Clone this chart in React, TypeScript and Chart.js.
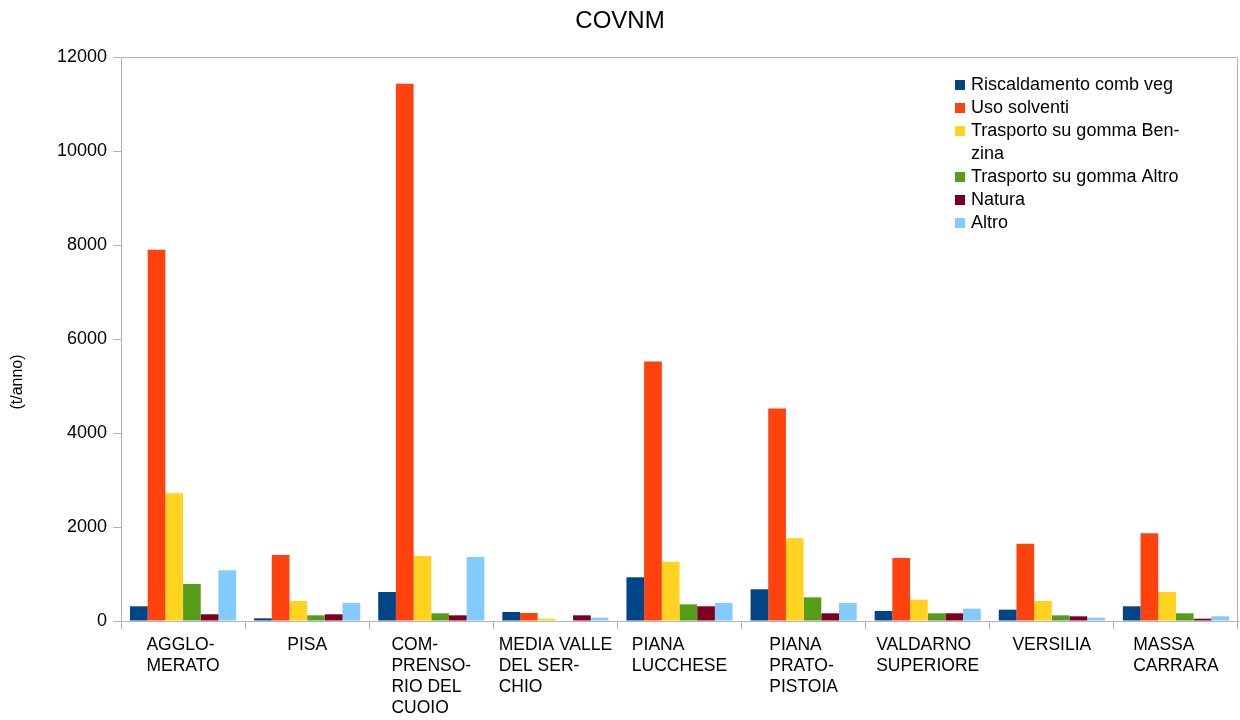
import React, { useEffect, useRef } from "react";
import { Chart, registerables } from "chart.js";

Chart.register(...registerables);

const chartTitle = "COVNM";
const yAxisTitle = "(t/anno)";

const categories: string[][] = [
  ["AGGLO-", "MERATO"],
  ["PISA"],
  ["COM-", "PRENSO-", "RIO DEL", "CUOIO"],
  ["MEDIA VALLE", "DEL SER-", "CHIO"],
  ["PIANA", "LUCCHESE"],
  ["PIANA", "PRATO-", "PISTOIA"],
  ["VALDARNO", "SUPERIORE"],
  ["VERSILIA"],
  ["MASSA", "CARRARA"],
];

const seriesNames: string[][] = [
  ["Riscaldamento comb veg"],
  ["Uso solventi"],
  ["Trasporto su gomma Ben-", "zina"],
  ["Trasporto su gomma Altro"],
  ["Natura"],
  ["Altro"],
];

const seriesColors = ["#004586", "#ff420e", "#ffd320", "#579d1c", "#7e0021", "#83caff"];

const riscaldamento = [313, 57, 617, 191, 930, 675, 213, 241, 313];
const usoSolventi = [7900, 1404, 11430, 170, 5520, 4520, 1340, 1645, 1866];
const benzina = [2720, 426, 1383, 49, 1262, 1760, 454, 426, 617];
const gommaAltro = [787, 121, 164, 0, 355, 504, 164, 121, 164];
const natura = [143, 143, 121, 121, 313, 164, 164, 100, 49];
const altro = [1079, 383, 1362, 70, 383, 383, 262, 70, 100];

const seriesValues = [riscaldamento, usoSolventi, benzina, gommaAltro, natura, altro];

const yMin = 0;
const yMax = 12000;
const yStep = 2000;

const FONT = '"Liberation Sans", Arial, sans-serif';
const GRAY = "#b3b3b3";

const overlayPlugin = {
  id: "overlay",
  afterDraw(chart: any) {
    const ctx = chart.ctx as CanvasRenderingContext2D;
    const { left, top, right, bottom } = chart.chartArea;
    ctx.save();

    // frame (top and right)
    ctx.strokeStyle = GRAY;
    ctx.lineWidth = 1;
    ctx.beginPath();
    ctx.moveTo(Math.round(left) + 0.5, Math.round(top) + 0.5);
    ctx.lineTo(Math.round(right) - 0.5, Math.round(top) + 0.5);
    ctx.lineTo(Math.round(right) - 0.5, Math.round(bottom) + 0.5);
    ctx.stroke();

    ctx.fillStyle = "#000";

    // title
    ctx.font = `24px ${FONT}`;
    ctx.textAlign = "center";
    ctx.textBaseline = "middle";
    ctx.fillText(chartTitle, chart.width / 2, 21);

    // y axis title
    ctx.save();
    ctx.translate(18, 382);
    ctx.rotate(-Math.PI / 2);
    ctx.font = `16px ${FONT}`;
    ctx.fillText(yAxisTitle, 0, 0);
    ctx.restore();

    // x category labels (block centered, lines left aligned)
    const xs = chart.scales.x;
    ctx.font = `17.5px ${FONT}`;
    ctx.textAlign = "left";
    categories.forEach((lines, i) => {
      const cx = xs.getPixelForValue(i);
      const maxW = Math.max(...lines.map((l) => ctx.measureText(l).width));
      const sx = cx - maxW / 2;
      lines.forEach((l, j) => {
        ctx.fillText(l, sx, bottom + 24 + j * 21);
      });
    });

    // legend
    ctx.font = `18px ${FONT}`;
    let row = 0;
    seriesNames.forEach((lines, i) => {
      const y = 85 + row * 23;
      ctx.fillStyle = seriesColors[i];
      ctx.fillRect(955, y - 5, 10, 10);
      ctx.fillStyle = "#000";
      lines.forEach((l, j) => {
        ctx.fillText(l, 971, 85 + (row + j) * 23);
      });
      row += lines.length;
    });

    ctx.restore();
  },
};

export default function App() {
  const canvasRef = useRef<HTMLCanvasElement | null>(null);

  useEffect(() => {
    if (!canvasRef.current) return;
    const chart = new Chart(canvasRef.current, {
      type: "bar",
      data: {
        labels: categories.map((c) => c.join(" ")),
        datasets: seriesValues.map((vals, i) => ({
          label: seriesNames[i].join(""),
          data: vals,
          backgroundColor: seriesColors[i],
          borderWidth: 0,
          categoryPercentage: 0.855,
          barPercentage: 1,
        })),
      },
      options: {
        responsive: false,
        animation: false,
        layout: { padding: { top: 57, left: 0, right: 2, bottom: 0 } },
        plugins: {
          legend: { display: false },
          title: { display: false },
          tooltip: { enabled: false },
        },
        scales: {
          x: {
            offset: true,
            grid: {
              offset: true,
              drawOnChartArea: false,
              drawTicks: true,
              tickLength: 8,
              color: GRAY,
            },
            border: { display: true, color: GRAY },
            ticks: { display: false },
            afterFit: (scale: any) => {
              scale.height = 99;
            },
          },
          y: {
            min: yMin,
            max: yMax,
            grid: {
              drawOnChartArea: false,
              drawTicks: true,
              tickLength: 8,
              color: GRAY,
            },
            border: { display: true, color: GRAY },
            ticks: {
              stepSize: yStep,
              padding: 6,
              color: "#000",
              font: { family: FONT, size: 18 },
              callback: (v: any) => String(v),
            },
            afterFit: (scale: any) => {
              scale.width = 121;
            },
          },
        },
      },
      plugins: [overlayPlugin],
    });
    return () => chart.destroy();
  }, []);

  return (
    <div style={{ position: "fixed", left: 0, top: 0, width: 1240, height: 720, background: "#fff" }}>
      <canvas ref={canvasRef} width={1240} height={720} />
    </div>
  );
}
